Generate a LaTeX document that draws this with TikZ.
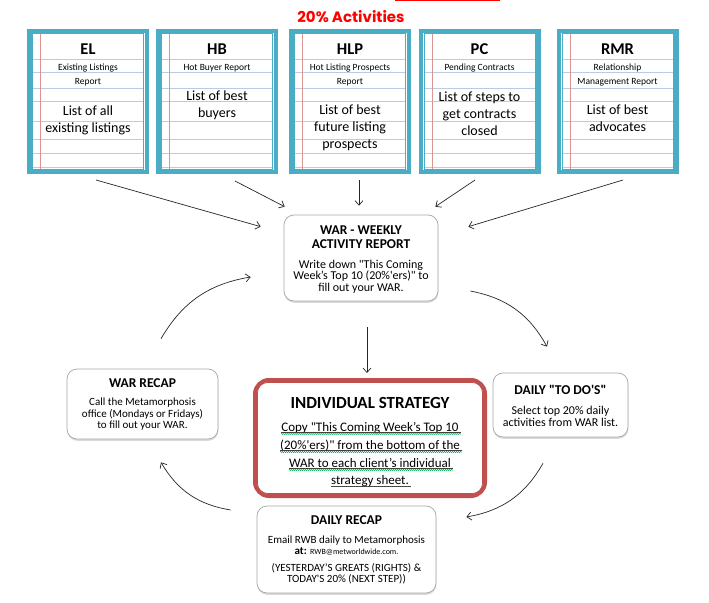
\documentclass[tikz,border=0pt]{standalone}
\usepackage{fontspec}
\setmainfont{Carlito}
\newfontfamily\gothicfont{Poppins}
\usetikzlibrary{arrows.meta,shadows,decorations.pathmorphing,positioning}
\definecolor{aqua}{HTML}{4BACC6}
\definecolor{ruleblue}{HTML}{B8CCE4}
\definecolor{marginred}{HTML}{D99694}
\definecolor{stratred}{HTML}{C0504D}
\definecolor{wavygreen}{HTML}{00B050}
\newcommand\sizeto[2]{\fontsize{#1}{#2}\selectfont}
% straight quotes, kept out of the TeX mapping
\newcommand\dq{\XeTeXglyph\XeTeXcharglyph"22\relax}
\newcommand\sq{\XeTeXglyph\XeTeXcharglyph"27\relax}
\tikzset{
  notebox/.style={draw=aqua, line width=4.5pt, minimum width=117.5pt, minimum height=140.5pt, inner sep=0pt},
  noteinner/.style={draw=aqua, line width=0.8pt},
  ruled/.style={ruleblue, line width=0.8pt},
  marginline/.style={marginred, line width=0.8pt},
  notetitle/.style={font=\bfseries\sizeto{16.5}{18}, inner sep=0pt},
  notesub/.style={font=\sizeto{9.5}{14}, align=center, inner sep=0pt},
  notebody/.style={font=\sizeto{14}{17}, align=center, inner sep=0pt},
  roundbox/.style={draw=black!35, fill=white, rounded corners=10pt, line width=0.7pt, inner sep=0pt,
    drop shadow={shadow xshift=0.3pt, shadow yshift=-1.8pt, opacity=0.3}},
  boxtitle/.style={font=\bfseries\sizeto{13.5}{14}, align=center, inner sep=0pt},
  boxtext/.style={font=\sizeto{11}{11.5}, align=center, inner sep=0pt},
  stratbox/.style={draw=stratred, fill=white, line width=4pt, rounded corners=14pt,
    minimum width=230pt, minimum height=116pt, inner sep=0pt},
  stratline/.style={font=\sizeto{13}{18}, inner sep=0pt},
  uline/.style={black!75, line width=0.5pt},
  squiggle/.style={wavygreen, line width=0.5pt, decorate, decoration={snake, amplitude=0.6pt, segment length=2pt}},
  arr/.style={-{Straight Barb[length=4.5pt,width=8pt]}, line width=0.7pt, black!85}
}
\begin{document}
\begin{tikzpicture}[x=1pt,y=-1pt]
  \useasboundingbox (0,0) rectangle (709,602);
  \fill[red] (395,0) rectangle (500,1.5);
  \node[font=\gothicfont\bfseries\sizeto{15}{18}, text=red] (acts) at (351,17) {20\% Activities};

  % the five report sheets
  \foreach \nm/\cx/\ttl/\sub/\suby/\body/\bodyy in {
      el/88/EL/{Existing Listings\\Report}/75/{List of all\\existing listings}/120.5,
      hb/217/HB/{Hot Buyer Report}/68/{List of best\\buyers}/105.5,
      hlp/350/HLP/{Hot Listing Prospects\\Report}/75/{List of best\\future listing\\prospects}/127.5,
      pc/479.5/PC/{Pending Contracts}/68/{List of steps to\\get contracts\\closed}/114,
      rmr/617.5/RMR/{Relationship\\Management Report}/75/{List of best\\advocates}/118.5}
  {
    \foreach \y in {59,72,88,101,121,139,153,167}
      \draw[ruled] (\cx-55,\y) -- (\cx+55,\y);
    \draw[marginline] (\cx-47.3,33) -- (\cx-47.3,170);
    \draw[noteinner] (\cx-55.5,33.5) rectangle (\cx+55.5,169.5);
    \node[notebox] (\nm) at (\cx,101.5) {};
    \node[notetitle] at (\cx,49) {\ttl};
    \node[notesub] at (\cx,\suby) {\sub};
    \node[notebody] at (\cx,\bodyy) {\body};
  }

  % weekly report
  \node[roundbox, minimum width=154pt, minimum height=86pt] (war) at (361,258) {};
  \node[boxtitle] at (361,237) {WAR - WEEKLY\\ACTIVITY REPORT};
  \node[boxtext, font=\sizeto{12}{11.7}] at (361,276.5) {Write down \dq This Coming\\Week’s Top 10 (20\%\sq ers)\dq{} to\\fill out your WAR.};

  \node[roundbox, minimum width=151pt, minimum height=70pt] (warrecap) at (142.5,404) {};
  \node[boxtitle] at (142.5,383) {WAR RECAP};
  \node[boxtext] at (142.5,414.5) {Call the Metamorphosis\\office (Mondays or Fridays)\\to fill out your WAR.};

  \node[roundbox, minimum width=135pt, minimum height=64pt] (todo) at (560.5,405) {};
  \node[boxtitle] at (560.5,390) {DAILY \dq TO DO\sq S\dq};
  \node[boxtext, font=\sizeto{12}{12}] at (560.5,416) {Select top 20\% daily\\activities from WAR list.};

  \node[roundbox, minimum width=179pt, minimum height=87pt] (drecap) at (346.5,549.5) {};
  \node[boxtitle] at (346.5,520) {DAILY RECAP};
  \node[boxtext] at (346.5,545.5) {Email RWB daily to Metamorphosis\\\textbf{at:} {\sizeto{8}{11.5}RWB@metworldwide.com.}};
  \node[boxtext] at (346.5,573.5) {(YESTERDAY’S GREATS (RIGHTS) \&\\TODAY\sq S 20\% (NEXT STEP))};

  % strategy box
  \node[stratbox] (strat) at (370,438) {};
  \draw[stratred, line width=0.8pt, rounded corners=10pt]
    ([shift={(4.5,4.5)}]strat.north west) rectangle ([shift={(-4.5,-4.5)}]strat.south east);
  \node[font=\bfseries\sizeto{17}{20}, inner sep=0pt] at (370,403) {INDIVIDUAL STRATEGY};
  \begin{scope}
    \clip (255,380) rectangle (485,486.5);
    \foreach \i/\ln/\by in {1/{Copy \dq This Coming Week’s Top 10}/431,
        2/{(20\%\sq ers)\dq{} from the bottom of the}/449,
        3/{WAR to each client’s individual}/467,
        4/{strategy sheet.}/484.5}
    {
      \node[stratline, anchor=base] (line\i) at (370,\by) {\ln};
      \draw[uline] ([yshift=-1.5pt]line\i.base west) -- ([shift={(2pt,-1.5pt)}]line\i.base east);
      \draw[squiggle] ([yshift=-3pt]line\i.base west) -- ([shift={(2pt,-3pt)}]line\i.base east);
    }
  \end{scope}

  % connectors
  \draw[arr] ([shift={(8,6)}]el.south) -- ([shift={(-23,12)}]war.north west);
  \draw[arr] ([shift={(18,7)}]hb.south) -- ([shift={(1,-8)}]war.north west);
  \draw[arr] ([shift={(9,6)}]hlp.south) -- ([shift={(-2,-9)}]war.north);
  \draw[arr] ([shift={(-4.5,6)}]pc.south) -- ([shift={(-3,-8)}]war.north east);
  \draw[arr] ([shift={(5.5,6)}]rmr.south) -- ([shift={(30,12)}]war.north east);
  \draw[arr] ([shift={(6,26)}]war.south) -- ([shift={(-3,-5)}]strat.north);
  \draw[arr] ([shift={(18.5,-30)}]warrecap.north) to[bend left=25] ([shift={(-33,19)}]war.west);
  \draw[arr] ([shift={(32,33)}]war.east) to[bend left=25] ([shift={(-13.5,-26)}]todo.north);
  \draw[arr] ([shift={(-17.5,26)}]todo.south) to[bend left=25] ([shift={(30,-32.5)}]drecap.east);
  \draw[arr] ([shift={(-26,-39.5)}]drecap.west) to[bend left=25] ([shift={(18.5,23)}]warrecap.south);
\end{tikzpicture}
\end{document}
